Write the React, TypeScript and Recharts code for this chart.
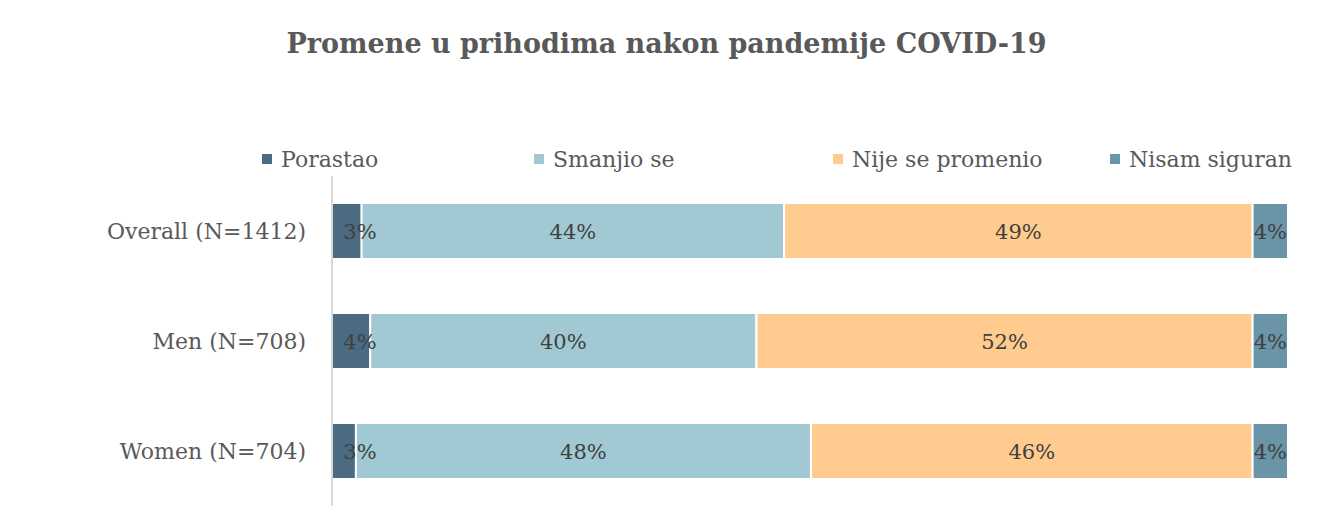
import React from 'react';
import { BarChart, Bar, XAxis, YAxis, Legend, LabelList } from 'recharts';

const categories = ['Overall (N=1412)', 'Men (N=708)', 'Women (N=704)'];
const porastao = [3.1, 4.0, 2.5];
const smanjioSe = [44.2, 40.4, 47.6];
const nijeSePromenio = [49.0, 51.9, 46.2];
const nisamSiguran = [3.7, 3.7, 3.7];

const seriesNames = ['Porastao', 'Smanjio se', 'Nije se promenio', 'Nisam siguran'];
const seriesColors = ['#4B6B82', '#A0C9D3', '#FFCB8E', '#6A95A8'];

const FONT = '"DejaVu Serif", Georgia, serif';

const data = categories.map((name, i) => ({
  name,
  s0: porastao[i],
  s1: smanjioSe[i],
  s2: nijeSePromenio[i],
  s3: nisamSiguran[i],
}));

// Excel keeps the first label clear of the axis line
const makeLabel = (first: boolean) => (props: any) => {
  const { x, y, width, height, value } = props;
  let cx = x + width / 2;
  if (first) cx = Math.max(cx, x + 28);
  return (
    <text
      x={cx}
      y={y + height / 2 + 1}
      textAnchor="middle"
      dominantBaseline="central"
      fill="#404040"
      fontSize={21}
      fontFamily={FONT}
    >
      {Math.round(value)}%
    </text>
  );
};

const legendWidths = [272, 299, 277, 200];

const renderLegend = () => (
  <div
    style={{
      display: 'flex',
      paddingLeft: 262,
      fontFamily: FONT,
      fontSize: 22,
      color: '#595959',
      height: 24,
      whiteSpace: 'nowrap',
    }}
  >
    {seriesNames.map((n, i) => (
      <div key={n} style={{ width: legendWidths[i], flexShrink: 0, display: 'flex', alignItems: 'center' }}>
        <span style={{ width: 10, height: 10, background: seriesColors[i], marginRight: 9, display: 'inline-block' }} />
        <span>{n}</span>
      </div>
    ))}
  </div>
);

export default function App() {
  return (
    <div style={{ position: 'relative', width: 1333, height: 530, margin: -8, overflow: 'hidden', background: '#fff' }}>
      <div
        style={{
          position: 'absolute',
          top: 28,
          left: 0,
          width: 1333,
          textAlign: 'center',
          fontFamily: FONT,
          fontWeight: 'bold',
          fontSize: 27,
          color: '#595959',
        }}
      >
        Promene u prihodima nakon pandemije COVID-19
      </div>
      <div style={{ position: 'absolute', left: 0, top: 0 }}>
        <BarChart
          width={1333}
          height={530}
          data={data}
          layout="vertical"
          margin={{ top: 152, right: 45, bottom: 24, left: 32 }}
          barCategoryGap={0}
        >
          {/* chart frame */}
          <path d="M5 540 V6 H1330 V540" fill="none" stroke="#C8C8C8" strokeWidth={2} />
          <XAxis type="number" domain={[0, 100]} hide />
          <YAxis
            type="category"
            dataKey="name"
            width={300}
            axisLine={{ stroke: '#D9D9D9', strokeWidth: 2 }}
            tickLine={false}
            tickSize={0}
            tickMargin={26}
            tick={{ fill: '#595959', fontSize: 22, fontFamily: FONT }}
          />
          <Legend
            verticalAlign="top"
            content={renderLegend}
            wrapperStyle={{ position: 'absolute', top: 147, left: 0, width: 1333 }}
          />
          {['s0', 's1', 's2', 's3'].map((k, i) => (
            <Bar
              key={k}
              dataKey={k}
              name={seriesNames[i]}
              stackId="a"
              fill={seriesColors[i]}
              stroke="#fff"
              strokeWidth={2}
              barSize={56}
              isAnimationActive={false}
            >
              <LabelList dataKey={k} content={makeLabel(i === 0)} />
            </Bar>
          ))}
        </BarChart>
      </div>
    </div>
  );
}
